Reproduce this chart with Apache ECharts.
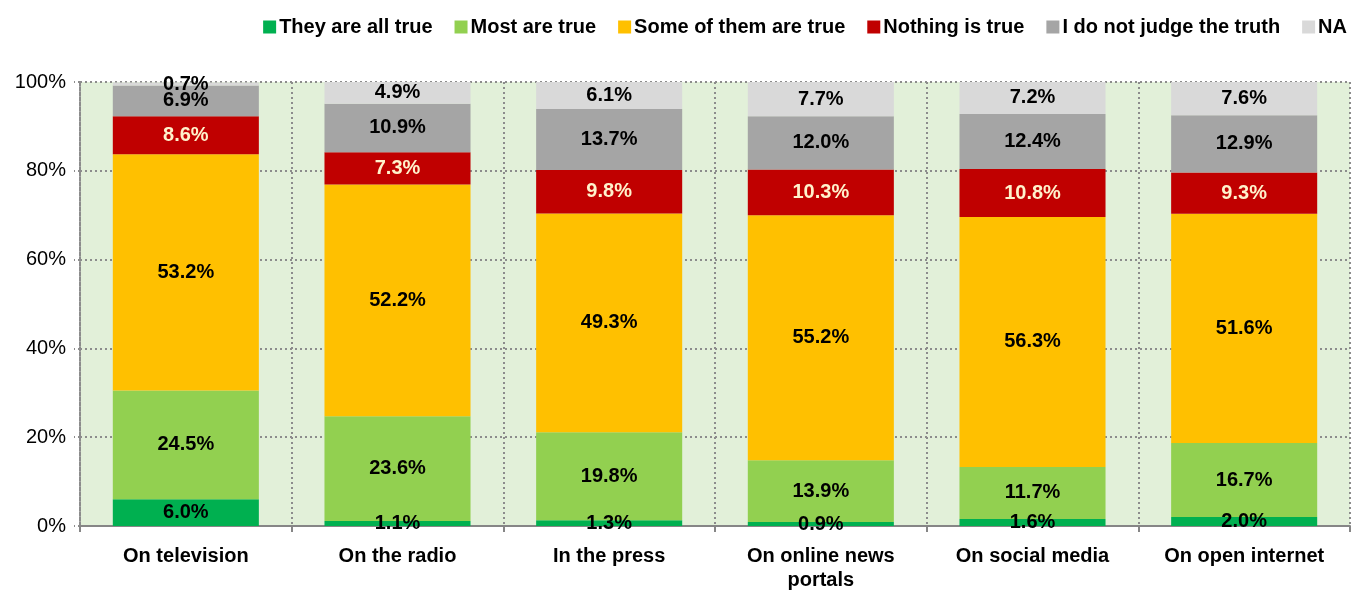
<!DOCTYPE html>
<html><head><meta charset="utf-8">
<script src="https://cdn.jsdelivr.net/npm/echarts@6/dist/echarts.min.js"></script>
<style>html,body{margin:0;padding:0;background:#fff}#c{width:1356px;height:592px}</style>
</head><body><div id="c"></div>
<script>
const categories = ['On television', 'On the radio', 'In the press', 'On online news\nportals', 'On social media', 'On open internet'];
const seriesNames = ['They are all true', 'Most are true', 'Some of them are true', 'Nothing is true', 'I do not judge the truth', 'NA'];
const allTrue = [6.0, 1.1, 1.3, 0.9, 1.6, 2.0];
const mostTrue = [24.5, 23.6, 19.8, 13.9, 11.7, 16.7];
const someTrue = [53.2, 52.2, 49.3, 55.2, 56.3, 51.6];
const nothingTrue = [8.6, 7.3, 9.8, 10.3, 10.8, 9.3];
const notJudge = [6.9, 10.9, 13.7, 12.0, 12.4, 12.9];
const na = [0.7, 4.9, 6.1, 7.7, 7.2, 7.6];
const yTicks = [0, 20, 40, 60, 80, 100];

const colors = ['#00b050', '#92d050', '#ffc000', '#c00000', '#a5a5a5', '#d9d9d9'];
const labelColors = ['#000', '#000', '#000', '#fff2cc', '#000', '#000'];
const FONT = "'Liberation Sans Narrow', 'Arial Narrow', 'Liberation Sans', sans-serif";
const dataSets = [allTrue, mostTrue, someTrue, nothingTrue, notJudge, na];

const chart = echarts.init(document.getElementById('c'));
chart.setOption({
  animation: false,
  color: colors,
  legend: {
    right: 4, top: 12, itemWidth: 13, itemHeight: 13, itemGap: 22, icon: 'rect',
    textStyle: { fontFamily: FONT, fontWeight: 'bold', fontSize: 20, color: '#000', padding: [0, 0, 0, -2] },
    data: seriesNames
  },
  grid: { left: 80, right: 6, top: 82, bottom: 66, show: true, backgroundColor: '#e2f0d9', borderWidth: 0 },
  xAxis: {
    type: 'category', data: categories,
    axisLine: { lineStyle: { color: '#868686', width: 2 } },
    axisTick: { show: true, length: 6, lineStyle: { color: '#868686', width: 2 } },
    axisLabel: { fontFamily: FONT, fontWeight: 'bold', fontSize: 20, color: '#000', margin: 18, lineHeight: 24 },
    splitLine: { show: true, lineStyle: { type: [2, 3], color: '#8c8c8c', width: 2 } }
  },
  yAxis: {
    type: 'value', min: 0, max: 100, interval: 20,
    axisLine: { show: true, lineStyle: { type: [2, 3], color: '#8c8c8c', width: 2 } },
    axisTick: { show: true, length: 6, lineStyle: { type: [2, 3], color: '#8c8c8c', width: 2 } },
    axisLabel: { fontFamily: FONT, fontSize: 20, color: '#000', margin: 14, formatter: v => v + '%' },
    splitLine: { show: true, lineStyle: { type: [2, 3], color: '#8c8c8c', width: 2 } }
  },
  series: seriesNames.map((n, i) => ({
    name: n, type: 'bar', stack: 'total', barWidth: '69%', data: dataSets[i],
    label: {
      show: true, position: 'inside', fontFamily: FONT, fontWeight: 'bold', fontSize: 20,
      color: labelColors[i], formatter: p => p.value.toFixed(1) + '%'
    }
  }))
});
</script></body></html>
